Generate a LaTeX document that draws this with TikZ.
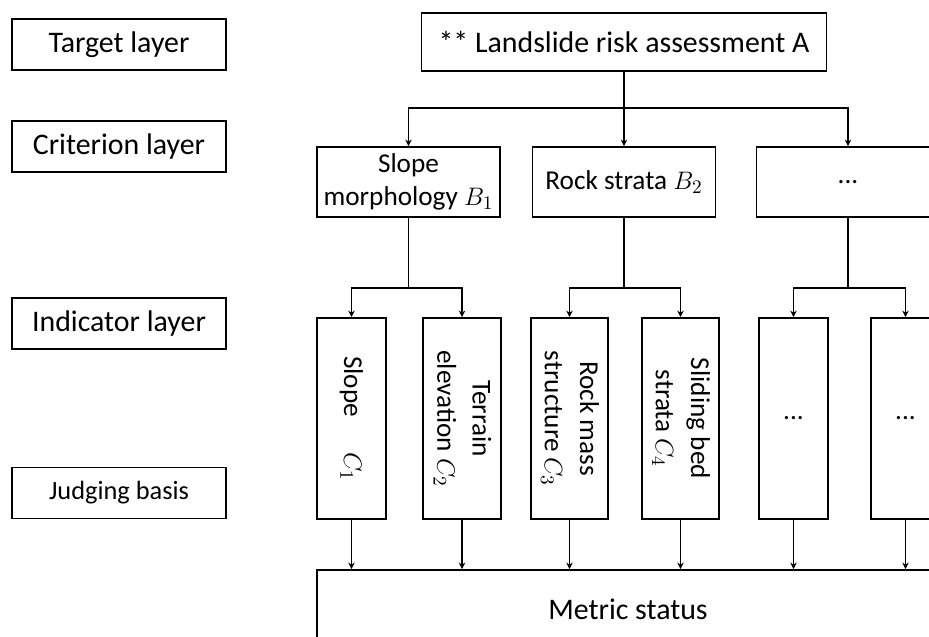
\documentclass[tikz,border=0pt]{standalone}
\usepackage{fontspec}
\setmainfont{Carlito}
\usetikzlibrary{arrows.meta}

\begin{document}
\begin{tikzpicture}[
  box/.style={draw, line width=1pt, inner sep=2pt, align=center},
  layerbox/.style={box, minimum width=4.28cm, minimum height=1.02cm, font=\fontsize{17}{20}\selectfont},
  critbox/.style={box, minimum width=3.66cm, minimum height=1.4cm, font=\fontsize{15.5}{19}\selectfont},
  indbox/.style={box, minimum width=1.38cm, minimum height=4.02cm, font=\fontsize{15.5}{20}\selectfont},
  link/.style={line width=0.8pt},
  arr/.style={link, -{Stealth[length=1.3mm,width=1.3mm]}}
]
  \useasboundingbox (0,0) rectangle (18.58,12.74);
  \fill[white] (0,0) rectangle (18.58,12.74);
  \clip (0,0) rectangle (18.58,12.74);

  % layer names
  \node[layerbox] (Ltarget) at (2.38,11.85) {Target layer};
  \node[layerbox] (Lcrit) at (2.38,9.81) {Criterion layer};
  \node[layerbox] (Lind) at (2.38,6.27) {Indicator layer};
  \node[layerbox, font=\fontsize{15}{18}\selectfont] (Ljudge) at (2.38,2.88) {Judging basis};

  % target
  \node[box, minimum width=8.1cm, minimum height=1.16cm, font=\fontsize{17}{20}\selectfont] (A) at (12.48,11.90) {** Landslide risk assessment A};

  % criteria
  \node[critbox] (B1) at (8.17,9.10) {Slope\\morphology $B_1$};
  \node[critbox] (B2) at (12.48,9.10) {Rock strata $B_2$};
  \node[critbox] (B3) at (16.96,9.10) {...};

  % indicators
  \node[indbox] (C1) at (7.03,4.37) {\rotatebox{-90}{Slope\hspace{1.3em}$C_1$}};
  \node[indbox] (C2) at (9.24,4.37) {\rotatebox{-90}{\begin{tabular}{@{}c@{}}Terrain\\elevation $C_2$\end{tabular}}};
  \node[indbox] (C3) at (11.39,4.37) {\rotatebox{-90}{\begin{tabular}{@{}c@{}}Rock mass\\structure $C_3$\end{tabular}}};
  \node[indbox] (C4) at (13.61,4.37) {\rotatebox{-90}{\begin{tabular}{@{}c@{}}Sliding bed\\strata $C_4$\end{tabular}}};
  \node[indbox] (C5) at (15.87,4.37) {...};
  \node[indbox] (C6) at (18.11,4.37) {...};

  % judging basis
  \node[box, minimum width=12.44cm, minimum height=1.56cm, font=\fontsize{17}{20}\selectfont] (M) at (12.56,0.56) {Metric status};

  % connectors
  \coordinate (lvl1) at (0,10.58);
  \coordinate (lvl2) at (0,6.98);
  \draw[link] (A.south) -- (A.south |- lvl1);
  \draw[arr] (A.south |- lvl1) -| (B1.north);
  \draw[arr] (A.south |- lvl1) -| (B3.north);
  \draw[arr] (A.south |- lvl1) -- (B2.north);

  \foreach \b/\l/\r in {B1/C1/C2, B2/C3/C4, B3/C5/C6} {
    \draw[link] (\b.south) -- (\b.south |- lvl2);
    \draw[arr] (\b.south |- lvl2) -| (\l.north);
    \draw[arr] (\b.south |- lvl2) -| (\r.north);
  }

  \foreach \c in {C1,C2,C3,C4,C5,C6}
    \draw[arr] (\c.south) -- (\c.south |- M.north);
\end{tikzpicture}
\end{document}
